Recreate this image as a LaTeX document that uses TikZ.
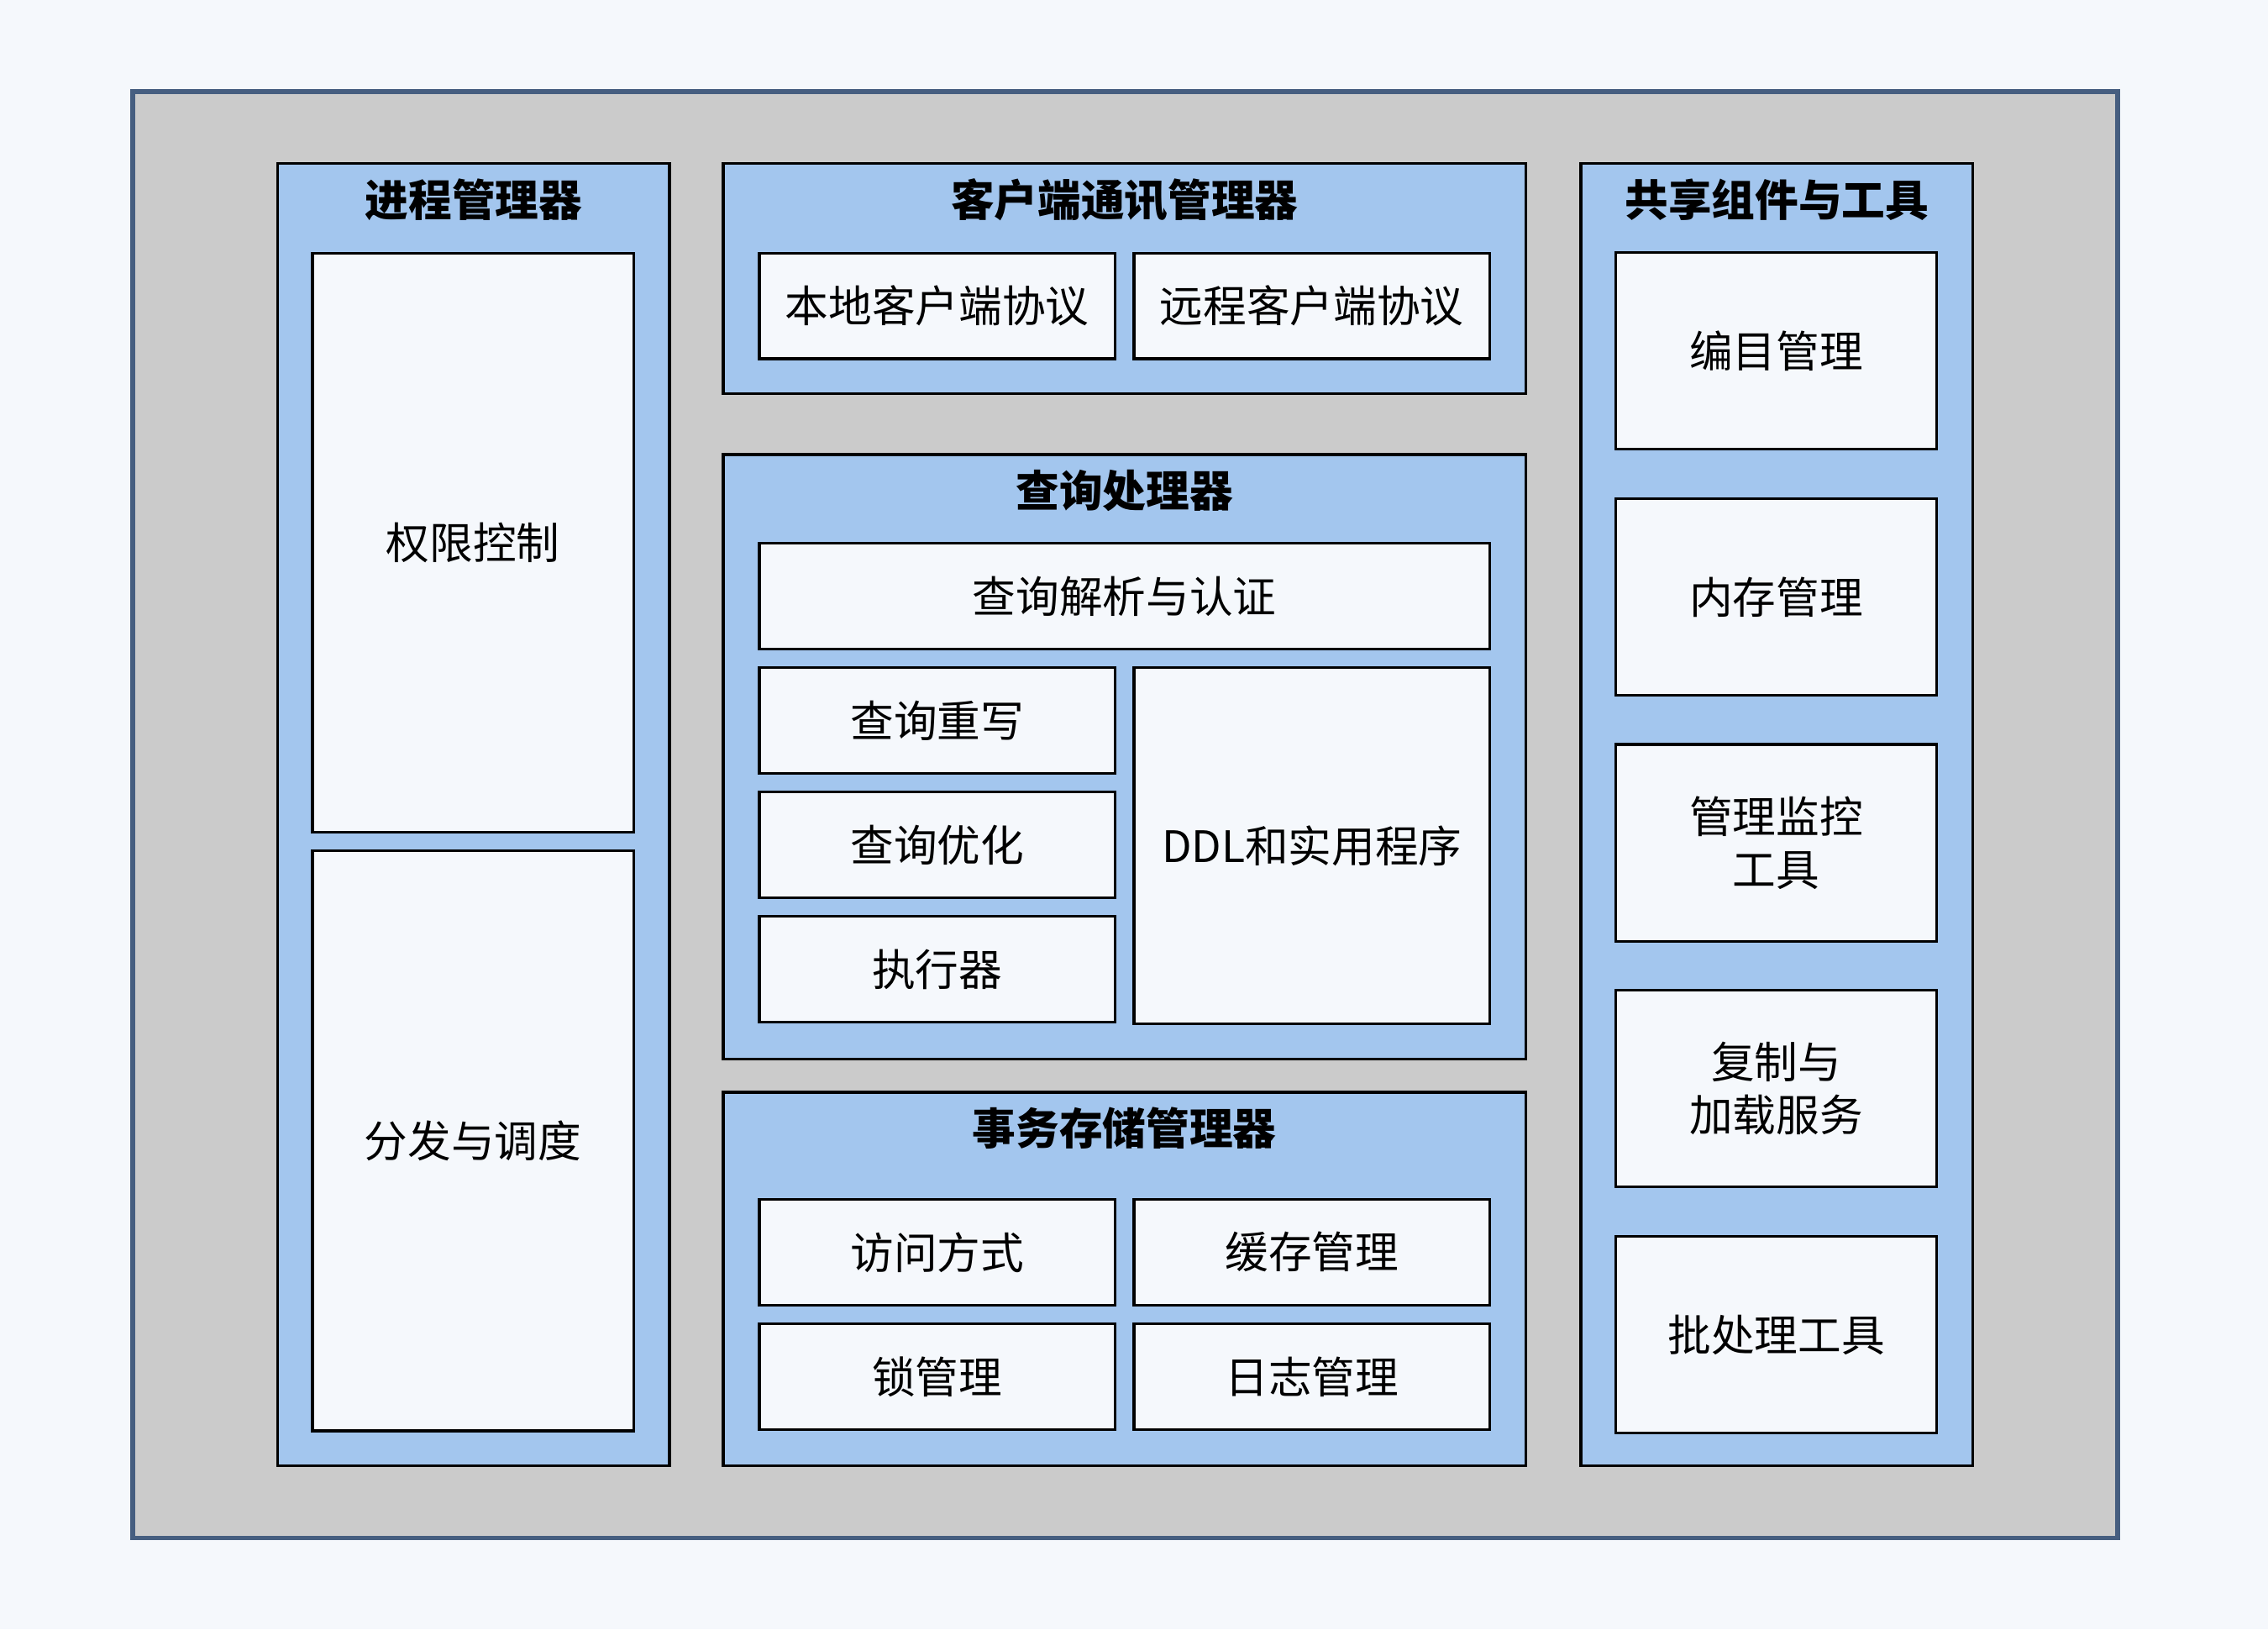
\documentclass[tikz,border=0pt]{standalone}
\usepackage{fontspec}
\setmainfont{Noto Sans CJK SC}
\usepackage{xcolor}
\usepackage{tikz}
\usetikzlibrary{positioning}

\definecolor{pagebg}{HTML}{F5F8FC}
\definecolor{framegray}{HTML}{CBCBCB}
\definecolor{frameedge}{HTML}{465E80}
\definecolor{panelblue}{HTML}{A3C6EE}

\begin{document}
\begin{tikzpicture}[
    node distance=0.224cm and 0.224cm,
    frame/.style={rectangle, draw=frameedge, fill=framegray, line width=1.7pt, minimum width=23.625cm, minimum height=17.219cm},
    panel/.style={rectangle, draw=black, fill=panelblue, line width=1pt, inner sep=0pt, outer sep=0pt},
    title/.style={font=\fontsize{14.7}{18}\selectfont\bfseries, inner sep=0pt},
    part/.style={rectangle, draw=black, fill=pagebg, line width=0.9pt, align=center, inner sep=0pt, outer sep=0pt, font=\fontsize{14.7}{18}\selectfont},
    wide/.style={part, minimum width=8.696cm, minimum height=1.257cm},
    half/.style={part, minimum width=4.236cm, minimum height=1.257cm},
    tall/.style={part, minimum width=3.823cm, minimum height=2.342cm}
]
\fill [pagebg] (0,0) rectangle (27,-19.39);
\useasboundingbox (0,0) rectangle (27,-19.39);

\node (frame) [frame] at (13.397,-9.695) {};

% panels
\node (procpanel) [panel, minimum width=4.666cm, minimum height=15.497cm] at (5.639,-9.695) {};
\node (clientpanel) [panel, minimum width=9.556cm, minimum height=2.738cm] at (13.388,-3.315) {};
\node (querypanel) [panel, minimum width=9.556cm, minimum height=7.197cm] at (13.388,-9.006) {};
\node (txnpanel) [panel, minimum width=9.556cm, minimum height=4.443cm] at (13.388,-15.222) {};
\node (sharedpanel) [panel, minimum width=4.667cm, minimum height=15.497cm] at (21.153,-9.695) {};

\node (proctitle) [title] at ([yshift=-0.43cm]procpanel.north) {进程管理器};
\node (clienttitle) [title] at ([yshift=-0.43cm]clientpanel.north) {客户端通讯管理器};
\node (querytitle) [title] at ([yshift=-0.43cm]querypanel.north) {查询处理器};
\node (txntitle) [title] at ([yshift=-0.43cm]txnpanel.north) {事务存储管理器};
\node (sharedtitle) [title] at ([yshift=-0.43cm]sharedpanel.north) {共享组件与工具};

% process manager
\node (perm) [part, minimum width=3.823cm, minimum height=6.888cm] at (5.631,-6.457) {权限控制};
\node (dispatch) [part, minimum width=3.823cm, minimum height=6.905cm, below=of perm] {分发与调度};

% client communications
\node (localproto) [half] at (11.158,-3.642) {本地客户端协议};
\node (remoteproto) [half, right=of localproto] {远程客户端协议};

% query processor
\node (parse) [wide] at (13.388,-7.094) {查询解析与认证};
\node (rewrite) [half, below=of parse.south west, anchor=north west] {查询重写};
\node (optimize) [half, below=of rewrite] {查询优化};
\node (executor) [half, below=of optimize] {执行器};
\node (ddl) [part, minimum width=4.236cm, minimum height=4.236cm, right=of rewrite.north east, anchor=north west] {DDL和实用程序};

% transactional storage
\node (access) [half] at (11.158,-14.903) {访问方式};
\node (buffer) [half, right=of access] {缓存管理};
\node (lock) [half, below=of access] {锁管理};
\node (logmgr) [half, right=of lock] {日志管理};

% shared components
\node (catalog) [tall] at (21.145,-4.176) {编目管理};
\node (memory) [tall, below=0.585cm of catalog] {内存管理};
\node (monitor) [tall, below=0.585cm of memory] {管理监控\\工具};
\node (replicate) [tall, below=0.585cm of monitor] {复制与\\加载服务};
\node (batch) [tall, below=0.585cm of replicate] {批处理工具};
\end{tikzpicture}
\end{document}
